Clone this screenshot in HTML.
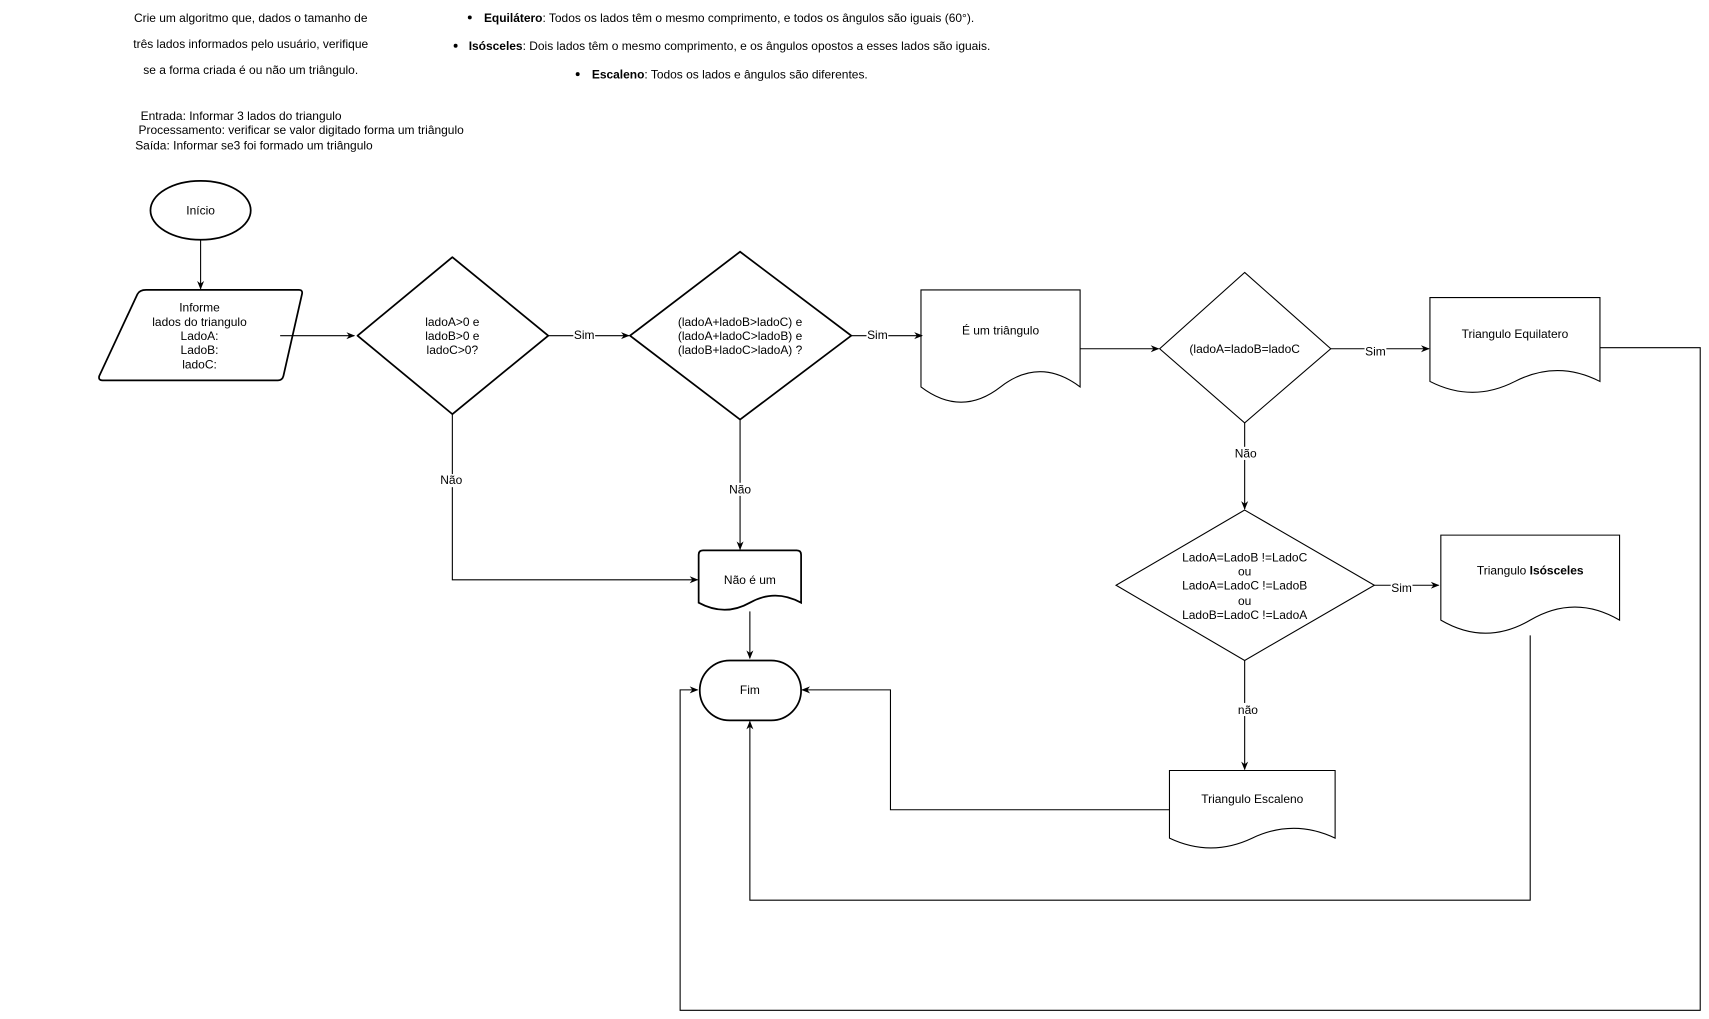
<!DOCTYPE html>
<html><head><meta charset="utf-8"><style>
html,body{margin:0;padding:0;background:#fff;}
svg{display:block;}
text{font-family:"Liberation Sans",Arial,sans-serif;font-size:11px;fill:#000;}
</style></head><body>
<svg width="1709" height="1019" viewBox="0 0 1568 935" xmlns="http://www.w3.org/2000/svg">
<defs>
<marker id="a" viewBox="0 0 10 10" refX="9" refY="5" markerWidth="8" markerHeight="8" orient="auto" markerUnits="userSpaceOnUse">
<path d="M0,1 L10,5 L0,9 L3,5 z" fill="#000"/></marker>
</defs>
<rect width="1568" height="935" fill="#fff"/>

<g text-anchor="middle">
<text x="230" y="20">Crie um algoritmo que, dados o tamanho de</text>
<text x="230" y="44">três lados informados pelo usuário, verifique</text>
<text x="230" y="68">se a forma criada é ou não um triângulo.</text>
</g>
<circle cx="431" cy="16" r="1.8" fill="#000"/>
<text x="444" y="20"><tspan font-weight="bold">Equilátero</tspan>: Todos os lados têm o mesmo comprimento, e todos os ângulos são iguais (60°).</text>
<circle cx="418" cy="42" r="1.8" fill="#000"/>
<text x="430" y="46"><tspan font-weight="bold">Isósceles</tspan>: Dois lados têm o mesmo comprimento, e os ângulos opostos a esses lados são iguais.</text>
<circle cx="530" cy="68" r="1.8" fill="#000"/>
<text x="543" y="72"><tspan font-weight="bold">Escaleno</tspan>: Todos os lados e ângulos são diferentes.</text>
<text x="129" y="110">Entrada: Informar 3 lados do triangulo</text>
<text x="127" y="123">Processamento: verificar se valor digitado  forma um triângulo</text>
<text x="124" y="137">Saída: Informar se3 foi formado um triângulo</text>

<g fill="none" stroke="#000" stroke-width="1">
<ellipse cx="184" cy="193" rx="46" ry="27" stroke-width="1.6"/>
<line x1="184" y1="220" x2="184" y2="265" marker-end="url(#a)"/>
<path d="M134,266 L274,266 Q278,266 277,270 L260,345 Q259,349 255,349 L94,349 Q90,349 91,345 L126,270 Q128,266 134,266 Z" stroke-width="1.6"/>
<line x1="257" y1="308" x2="325" y2="308" marker-end="url(#a)"/>
<path d="M415,236 L503,308 L415,380 L328,308 Z" stroke-width="1.6" stroke-linejoin="round"/>
<line x1="503" y1="308" x2="577" y2="308" marker-end="url(#a)"/>
<path d="M679,231 L781,308 L679,385 L578,308 Z" stroke-width="1.6"/>
<line x1="781" y1="308" x2="846" y2="308" marker-end="url(#a)"/>
<path d="M845,266 L991,266 L991,355 Q954,327 918,355 T845,355 Z"/>
<line x1="991" y1="320" x2="1063" y2="320" marker-end="url(#a)"/>
<path d="M1142,250 L1221,320 L1142,388 L1064,320 Z"/>
<line x1="1221" y1="320" x2="1311" y2="320" marker-end="url(#a)"/>
<path d="M1312,273 L1468,273 L1468,350 Q1429,330 1390,350 T1312,350 Z"/>
<polyline points="1468,319 1560,319 1560,927 624,927 624,633 640,633" marker-end="url(#a)"/>
<line x1="1142" y1="388" x2="1142" y2="467" marker-end="url(#a)"/>
<path d="M1142,468 L1261,537 L1142,606 L1024,537 Z"/>
<line x1="1261" y1="537" x2="1320" y2="537" marker-end="url(#a)"/>
<path d="M1322,491 L1486,491 L1486,569 Q1445,545 1404,569 T1322,569 Z"/>
<polyline points="1404,583 1404,826 688,826 688,662" marker-end="url(#a)"/>
<line x1="1142" y1="606" x2="1142" y2="706" marker-end="url(#a)"/>
<path d="M1073,707 L1225,707 L1225,769 Q1187,751 1149,769 T1073,769 Z"/>
<polyline points="1073,743 817,743 817,633 736,633" marker-end="url(#a)"/>
<polyline points="415,380 415,532 640,532" marker-end="url(#a)"/>
<line x1="679" y1="385" x2="679" y2="504" marker-end="url(#a)"/>
<path d="M645,505 L731,505 Q735,505 735,509 L735,553 Q711,540 688,553 T641,553 L641,509 Q641,505 645,505 Z" stroke-width="1.6"/>
<line x1="688" y1="561" x2="688" y2="604" marker-end="url(#a)"/>
<rect x="642" y="606" width="93" height="55" rx="27.5" ry="27.5" stroke-width="1.6"/>
</g>

<g fill="#fff">
<rect x="526" y="302" width="20" height="12"/>
<rect x="795" y="302" width="20" height="12"/>
<rect x="1252" y="316" width="20" height="12"/>
<rect x="1276" y="533" width="20" height="12"/>
<rect x="403" y="435" width="22" height="12"/>
<rect x="668" y="443" width="22" height="12"/>
<rect x="1132" y="410" width="22" height="12"/>
<rect x="1134" y="645" width="22" height="12"/>
</g>

<g text-anchor="middle">
<text x="184" y="197">Início</text>
<text x="183" y="286">Informe</text>
<text x="183" y="299">lados do triangulo</text>
<text x="183" y="312">LadoA:</text>
<text x="183" y="325">LadoB:</text>
<text x="183" y="338">ladoC:</text>
<text x="415" y="299">ladoA&gt;0 e</text>
<text x="415" y="312">ladoB&gt;0 e</text>
<text x="415" y="325">ladoC&gt;0?</text>
<text x="679" y="299">(ladoA+ladoB&gt;ladoC) e</text>
<text x="679" y="312">(ladoA+ladoC&gt;ladoB) e</text>
<text x="679" y="325">(ladoB+ladoC&gt;ladoA) ?</text>
<text x="918" y="307">É um triângulo</text>
<text x="1142" y="324">(ladoA=ladoB=ladoC</text>
<text x="1390" y="310">Triangulo Equilatero</text>
<text x="1142" y="515">LadoA=LadoB !=LadoC</text>
<text x="1142" y="528">ou</text>
<text x="1142" y="541">LadoA=LadoC !=LadoB</text>
<text x="1142" y="555">ou</text>
<text x="1142" y="568">LadoB=LadoC !=LadoA</text>
<text x="1404" y="527">Triangulo  <tspan font-weight="bold">Isósceles</tspan></text>
<text x="1149" y="737">Triangulo Escaleno</text>
<text x="688" y="536">Não é um</text>
<text x="688" y="637">Fim</text>
<g font-size="9.5">
<text x="536" y="311">Sim</text>
<text x="805" y="311">Sim</text>
<text x="1262" y="326">Sim</text>
<text x="1286" y="543">Sim</text>
<text x="414" y="444">Não</text>
<text x="679" y="453">Não</text>
<text x="1143" y="420">Não</text>
<text x="1145" y="655">não</text>
</g>
</g>
</svg>
</body></html>
